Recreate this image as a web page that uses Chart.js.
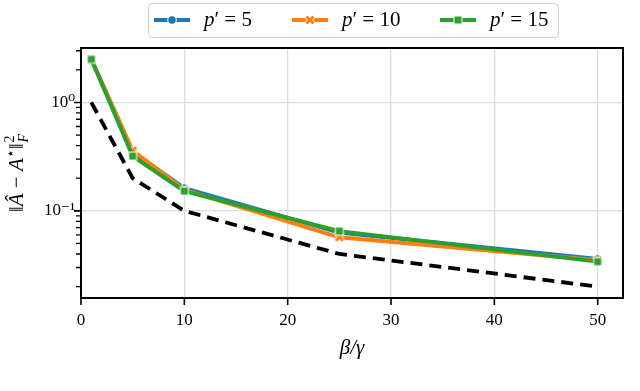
<!DOCTYPE html>
<html>
<head>
<meta charset="utf-8">
<script src="https://cdn.jsdelivr.net/npm/chart.js@4/dist/chart.umd.min.js"></script>
<style>
  html, body { margin: 0; padding: 0; background: #fff; }
  #wrap { width: 640px; height: 391px; }
</style>
</head>
<body>
<div id="wrap"><canvas id="myChart"></canvas></div>
<script>
// data
const betaGamma = [1, 5, 10, 25, 50];
const errP5 = [2.5, 0.35, 0.162, 0.063, 0.036];
const errP10 = [2.5, 0.36, 0.156, 0.057, 0.035];
const errP15 = [2.5, 0.32, 0.152, 0.065, 0.034];
const refLine = [1, 0.2, 0.1, 0.04, 0.02];
const seriesLabels = ['p\u2032 = 5', 'p\u2032 = 10', 'p\u2032 = 15'];
const xTicks = [0, 10, 20, 30, 40, 50];
const yMajor = [0.1, 1];
const yMinor = [0.02, 0.03, 0.04, 0.05, 0.06, 0.07, 0.08, 0.09, 0.2, 0.3, 0.4, 0.5, 0.6, 0.7, 0.8, 0.9, 2, 3];

const SERIF = '"Liberation Serif", "DejaVu Serif", serif';

// marker images: matplotlib style with white edge
function makeMarker(shape, color) {
    const c = document.createElement('canvas');
    c.width = 12; c.height = 12;
    const g = c.getContext('2d');
    g.fillStyle = color;
    g.strokeStyle = '#fff';
    g.lineWidth = 1;
    if (shape === 'circle') {
        g.beginPath(); g.arc(6, 6, 4.3, 0, Math.PI * 2); g.fill(); g.stroke();
    } else if (shape === 'square') {
        g.fillRect(2, 2, 8, 8); g.strokeRect(2, 2, 8, 8);
    } else {
        g.lineCap = 'butt';
        g.beginPath(); g.moveTo(2.5, 2.5); g.lineTo(9.5, 9.5); g.moveTo(9.5, 2.5); g.lineTo(2.5, 9.5);
        g.lineWidth = 4.5; g.strokeStyle = '#fff'; g.stroke();
        g.lineWidth = 2.8; g.strokeStyle = color; g.stroke();
    }
    return c;
}

const colors = ['#1f77b4', '#ff7f0e', '#2ca02c'];
const markers = [makeMarker('circle', colors[0]), makeMarker('x', colors[1]), makeMarker('square', colors[2])];

const pts = (ys) => betaGamma.map((x, i) => ({ x: x, y: ys[i] }));

function seriesDs(i, ys, order) {
    return {
        label: seriesLabels[i],
        data: pts(ys),
        borderColor: colors[i],
        backgroundColor: colors[i],
        borderWidth: 4,
        pointStyle: markers[i],
        pointRadius: 6,
        tension: 0,
        order: order
    };
}

const frameAndText = {
    id: 'frameAndText',
    afterDraw(chart) {
        const ctx = chart.ctx;
        const a = chart.chartArea;
        const xs = chart.scales.x, ys = chart.scales.y;
        ctx.save();
        // tick marks
        ctx.strokeStyle = '#000';
        ctx.lineWidth = 1.6;
        ctx.beginPath();
        xTicks.forEach(v => {
            const px = xs.getPixelForValue(v);
            ctx.moveTo(px, a.bottom); ctx.lineTo(px, a.bottom + 7);
        });
        yMajor.forEach(v => {
            const py = ys.getPixelForValue(v);
            ctx.moveTo(a.left, py); ctx.lineTo(a.left - 7, py);
        });
        ctx.stroke();
        ctx.lineWidth = 1.3;
        ctx.beginPath();
        yMinor.forEach(v => {
            const py = ys.getPixelForValue(v);
            ctx.moveTo(a.left, py); ctx.lineTo(a.left - 5, py);
        });
        ctx.stroke();
        // frame
        ctx.lineWidth = 2;
        ctx.strokeRect(a.left, a.top, a.right - a.left, a.bottom - a.top);

        // x title
        ctx.fillStyle = '#000';
        ctx.textBaseline = 'middle';
        ctx.textAlign = 'center';
        ctx.font = 'italic 21px ' + SERIF;
        ctx.fillText('\u03b2/\u03b3', (a.left + a.right) / 2, 348);

        // y title, rotated, with sub/superscripts
        ctx.save();
        ctx.translate(16, (a.top + a.bottom) / 2);
        ctx.rotate(-Math.PI / 2);
        ctx.textAlign = 'left';
        ctx.textBaseline = 'alphabetic';
        const big = '21px ' + SERIF, bigI = 'italic 21px ' + SERIF, small = '14px ' + SERIF, smallI = 'italic 14px ' + SERIF;
        const parts = [
            [big, '\u2016', 0], [bigI, '\u00c2', 0], [big, ' \u2212 ', 0], [bigI, 'A', 0],
            [small, '\u22c6', -8], [big, '\u2016', 0]
        ];
        let w = 0;
        parts.forEach(p => { ctx.font = p[0]; w += ctx.measureText(p[1]).width; });
        ctx.font = small; const wSup = ctx.measureText('2').width;
        ctx.font = smallI; const wSub = ctx.measureText('F').width;
        w += Math.max(wSup, wSub) + 1;
        let cx = -w / 2;
        const base = 7;
        parts.forEach(p => {
            ctx.font = p[0];
            ctx.fillText(p[1], cx, base + p[2]);
            cx += ctx.measureText(p[1]).width;
        });
        cx += 1;
        ctx.font = small; ctx.fillText('2', cx, base - 9);
        ctx.font = smallI; ctx.fillText('F', cx, base + 5);
        ctx.restore();

        // legend
        const lx = 148, ly = 3, lw = 410, lh = 34;
        ctx.beginPath();
        ctx.roundRect(lx + 0.5, ly + 0.5, lw, lh, 4);
        ctx.fillStyle = 'rgba(255,255,255,0.85)';
        ctx.fill();
        ctx.strokeStyle = '#cccccc';
        ctx.lineWidth = 1;
        ctx.stroke();
        const entryX = [154, 292, 440];
        const cy = 20;
        chart.data.datasets.filter(d => seriesLabels.includes(d.label)).forEach(d => {
            const i = seriesLabels.indexOf(d.label);
            const x0 = entryX[i];
            ctx.strokeStyle = d.borderColor;
            ctx.lineWidth = 4;
            ctx.beginPath(); ctx.moveTo(x0, cy); ctx.lineTo(x0 + 36, cy); ctx.stroke();
            ctx.drawImage(markers[i], x0 + 18 - 6, cy - 6);
            ctx.fillStyle = '#000';
            ctx.textBaseline = 'middle';
            ctx.textAlign = 'left';
            ctx.font = 'italic 21px ' + SERIF;
            let tx = x0 + 50;
            ctx.fillText(d.label.charAt(0), tx, cy);
            tx += ctx.measureText(d.label.charAt(0)).width;
            ctx.font = '21px ' + SERIF;
            ctx.fillText(d.label.slice(1), tx, cy);
        });
        ctx.restore();
    }
};

const ctx = document.getElementById('myChart').getContext('2d');
new Chart(ctx, {
    type: 'line',
    data: {
        datasets: [
            {
                label: 'reference',
                data: pts(refLine),
                borderColor: '#000',
                borderWidth: 3.8,
                borderDash: [12, 7],
                pointRadius: 0,
                tension: 0,
                order: 3
            },
            seriesDs(0, errP5, 2),
            seriesDs(1, errP10, 1),
            seriesDs(2, errP15, 0)
        ]
    },
    options: {
        responsive: true,
        maintainAspectRatio: false,
        animation: false,
        layout: { padding: { top: 48, right: 17, left: 0, bottom: 0 } },
        plugins: { legend: { display: false }, tooltip: { enabled: false } },
        scales: {
            x: {
                type: 'linear',
                min: 0,
                max: 52.45,
                afterFit: s => { s.height = 93; },
                afterBuildTicks: s => { s.ticks = xTicks.map(v => ({ value: v })); },
                grid: { color: '#dcdcdc', lineWidth: 1.3, drawTicks: false },
                border: { display: false },
                ticks: { padding: 12, color: '#000', font: { family: SERIF, size: 17 } }
            },
            y: {
                type: 'logarithmic',
                min: 0.0157,
                max: 3.18,
                afterFit: s => { s.width = 81; },
                afterBuildTicks: s => {
                    s.ticks = yMinor.concat(yMajor).sort((a, b) => a - b).map(v => ({ value: v, major: yMajor.includes(v) }));
                },
                grid: {
                    color: c => (c.tick && yMajor.includes(c.tick.value)) ? '#dcdcdc' : 'rgba(0,0,0,0)',
                    lineWidth: 1.3,
                    drawTicks: false
                },
                border: { display: false },
                ticks: {
                    padding: 6,
                    color: '#000',
                    autoSkip: false,
                    font: { family: SERIF, size: 17 },
                    callback: v => v === 1 ? '10\u2070' : (v === 0.1 ? '10\u207b\u00b9' : '')
                }
            }
        }
    },
    plugins: [frameAndText]
});
</script>
</body>
</html>
